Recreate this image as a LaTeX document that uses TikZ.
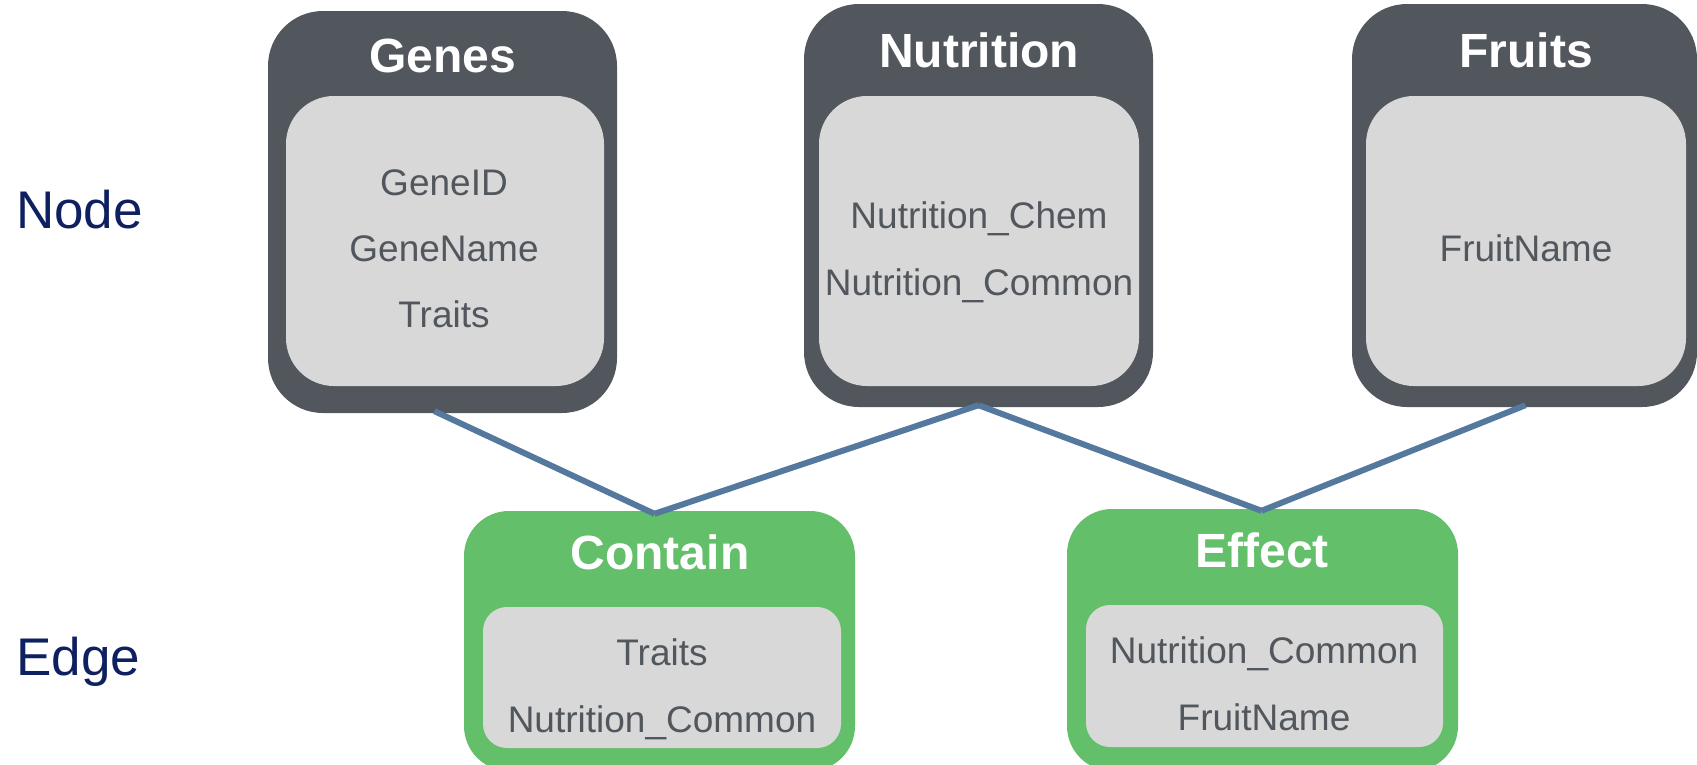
\documentclass[tikz,border=0pt]{standalone}
\usepackage{fontspec}
\setmainfont{Liberation Sans}
\definecolor{boxdark}{HTML}{52575E}
\definecolor{boxlight}{HTML}{D8D8D8}
\definecolor{edgegreen}{HTML}{63BF69}
\definecolor{linkblue}{HTML}{55789F}
\definecolor{itemtext}{HTML}{52575E}
\definecolor{labelnavy}{HTML}{0E2060}
\tikzset{
  nodebox/.style={fill=boxdark, rounded corners=55pt, inner sep=0pt},
  edgebox/.style={fill=edgegreen, rounded corners=45pt, inner sep=0pt},
  nodefield/.style={fill=boxlight, rounded corners=48pt, inner sep=0pt},
  edgefield/.style={fill=boxlight, rounded corners=24pt, inner sep=0pt},
  title/.style={anchor=base, text=white, inner sep=0pt, font=\fontsize{48}{52}\selectfont\bfseries},
  item/.style={anchor=base, text=itemtext, inner sep=0pt, font=\fontsize{37}{40}\selectfont},
  sidelabel/.style={anchor=base west, text=labelnavy, inner sep=0pt, font=\fontsize{53}{56}\selectfont},
  link/.style={draw=linkblue, line width=6pt}
}
\begin{document}
\begin{tikzpicture}[x=1pt,y=-1pt]
\useasboundingbox (0,0) rectangle (1697,764);

% row labels
\node[sidelabel] (lnode) at (16,228) {Node};
\node[sidelabel] (ledge) at (16,675) {Edge};

% vertex types
\node[nodebox, minimum width=349pt, minimum height=402pt] (genes) at (442.5,212) {};
\node[nodefield, minimum width=318pt, minimum height=290pt] (genesf) at (445,241) {};
\node[title] (genest) at (443,72) {Genes};
\node[item] (g1) at (444,195) {GeneID};
\node[item] (g2) at (444,261) {GeneName};
\node[item] (g3) at (444,327) {Traits};

\node[nodebox, minimum width=349pt, minimum height=403pt] (nutr) at (978.5,205.5) {};
\node[nodefield, minimum width=320pt, minimum height=290pt] (nutrf) at (979,241) {};
\node[title] (nutrt) at (979,67) {Nutrition};
\node[item] (n1) at (979,228) {Nutrition\_Chem};
\node[item] (n2) at (979,295) {Nutrition\_Common};

\node[nodebox, minimum width=345pt, minimum height=403pt] (fruits) at (1524.5,205.5) {};
\node[nodefield, minimum width=320pt, minimum height=290pt] (fruitsf) at (1526,241) {};
\node[title] (fruitst) at (1526,67) {Fruits};
\node[item] (f1) at (1526,261) {FruitName};

% edge types
\node[edgebox, minimum width=391pt, minimum height=260pt] (contain) at (659.5,641) {};
\node[edgefield, minimum width=358pt, minimum height=141pt] (containf) at (662,677.5) {};
\node[title] (containt) at (660,569) {Contain};
\node[item] (c1) at (662,665) {Traits};
\node[item] (c2) at (662,732) {Nutrition\_Common};

\node[edgebox, minimum width=391pt, minimum height=262pt] (effect) at (1262.5,640) {};
\node[edgefield, minimum width=357pt, minimum height=142pt] (effectf) at (1264.5,676) {};
\node[title] (effectt) at (1262,567) {Effect};
\node[item] (e1) at (1264,663) {Nutrition\_Common};
\node[item] (e2) at (1264,730) {FruitName};

% connections
\draw[link] ([xshift=-8pt,yshift=2pt]genes.south) -- ([xshift=-5pt,yshift=-3pt]contain.north);
\draw[link] ([yshift=2pt]nutr.south) -- ([xshift=-5pt,yshift=-3pt]contain.north);
\draw[link] ([yshift=2pt]nutr.south) -- ([xshift=-1pt,yshift=-2pt]effect.north);
\draw[link] ([xshift=1pt,yshift=2pt]fruits.south) -- ([xshift=-1pt,yshift=-2pt]effect.north);
\end{tikzpicture}
\end{document}
